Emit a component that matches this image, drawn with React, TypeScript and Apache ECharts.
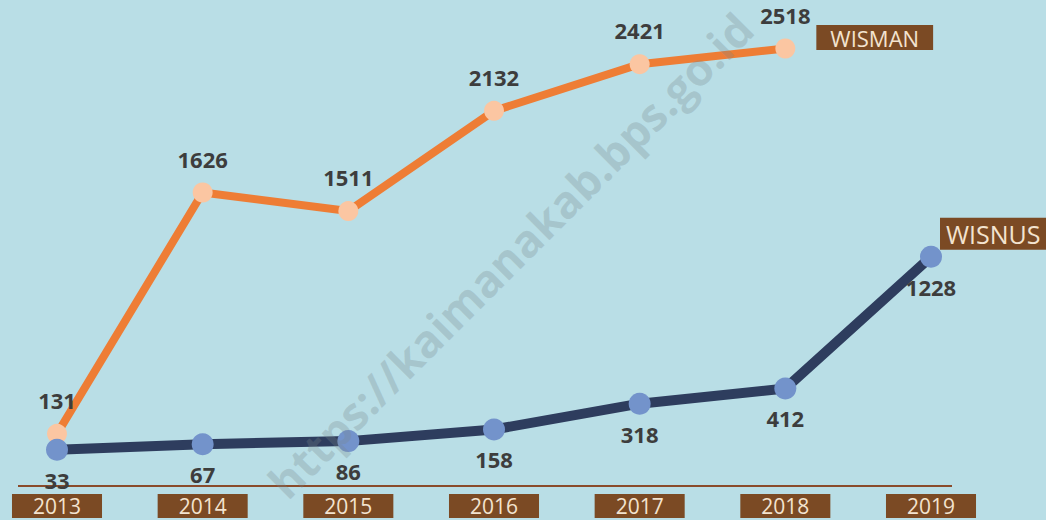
import React, { useEffect, useRef } from "react";
import * as echarts from "echarts";

const years = ["2013", "2014", "2015", "2016", "2017", "2018", "2019"];
const wisman = [131, 1626, 1511, 2132, 2421, 2518, null];
const wisnus = [33, 67, 86, 158, 318, 412, 1228];

export default function App() {
  const ref = useRef<HTMLDivElement>(null);
  useEffect(() => {
    document.body.style.margin = "0";
    const chart = echarts.init(ref.current!, null, { renderer: "svg" });
    const labelFont = {
      fontFamily: "Open Sans",
      fontWeight: "bold" as const,
      fontSize: 22,
      lineHeight: 20,
      color: "#3d3d3d",
    };
    chart.setOption({
      animation: false,
      backgroundColor: "#b9dee6",
      grid: { left: 57, right: 115, top: 3, bottom: 65 },
      xAxis: {
        type: "category",
        data: years,
        boundaryGap: false,
        axisLine: { show: false },
        axisTick: { show: false },
        splitLine: { show: false },
        axisLabel: {
          margin: 39,
          fontFamily: "Open Sans",
          fontSize: 21,
          lineHeight: 24,
          color: "#f3e3cf",
          backgroundColor: "#7b4a24",
          padding: [0, 21],
        },
      },
      yAxis: { type: "value", min: 0, max: 2800, show: false, splitLine: { show: false } },
      graphic: [
        {
          type: "line",
          shape: { x1: 18, y1: 486, x2: 952, y2: 486 },
          style: { stroke: "#8a4b2b", lineWidth: 2 },
          z: 1,
        },
        {
          type: "text",
          x: 510,
          y: 255,
          rotation: Math.PI / 4,
          style: {
            text: "https://kaimanakab.bps.go.id",
            fontFamily: "Open Sans",
            fontWeight: "bold",
            fontSize: 45,
            fill: "rgba(120,135,140,0.28)",
            align: "center",
            verticalAlign: "middle",
          },
          z: 100,
        },
      ],
      series: [
        {
          name: "WISMAN",
          type: "line",
          data: wisman,
          symbol: "circle",
          symbolSize: 20,
          lineStyle: { color: "#ee7d35", width: 8 },
          itemStyle: { color: "#fbc6a2" },
          label: { show: true, position: "top", distance: 14, ...labelFont },
          endLabel: {
            show: true,
            formatter: "WISMAN",
            distance: 31,
            offset: [0, -11],
            fontFamily: "Open Sans",
            fontSize: 22,
            lineHeight: 25,
            color: "#f3e3cf",
            backgroundColor: "#7b4a24",
            padding: [0, 14],
          },
        },
        {
          name: "WISNUS",
          type: "line",
          data: wisnus,
          symbol: "circle",
          symbolSize: 22,
          lineStyle: { color: "#2e3d5e", width: 10 },
          itemStyle: { color: "#7393cb" },
          label: { show: true, position: "bottom", distance: 9, ...labelFont },
          endLabel: {
            show: true,
            formatter: "WISNUS",
            distance: 9,
            offset: [0, -23],
            fontFamily: "Open Sans",
            fontSize: 25,
            lineHeight: 32,
            color: "#f3e3cf",
            backgroundColor: "#7b4a24",
            padding: [0, 6],
          },
        },
      ],
    });
    return () => chart.dispose();
  }, []);
  return <div ref={ref} style={{ position: "fixed", left: 0, top: 0, width: 1046, height: 520 }} />;
}
